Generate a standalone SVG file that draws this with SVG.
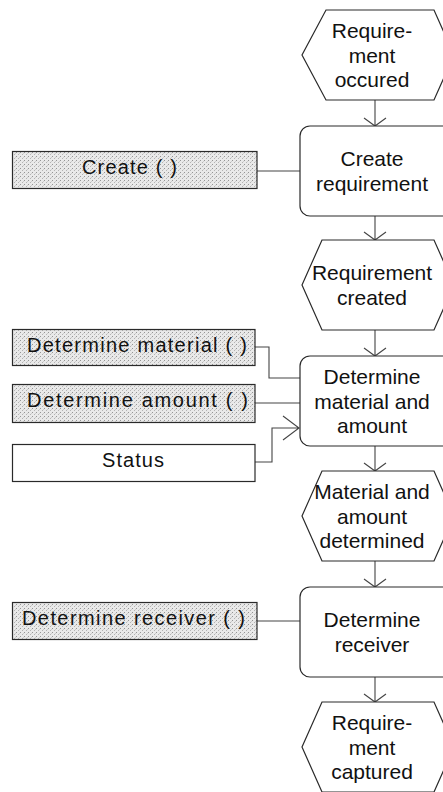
<svg xmlns="http://www.w3.org/2000/svg" width="443" height="792" viewBox="0 0 443 792">
  <defs>
    <!-- fine dotted screen used for the operation boxes -->
    <pattern id="dots" width="4" height="4" patternUnits="userSpaceOnUse">
      <rect width="4" height="4" fill="#e9e9e9"/>
      <rect x="0" y="0" width="1" height="1" fill="#959595"/>
      <rect x="2" y="2" width="1" height="1" fill="#b4b4b4"/>
      <rect x="3" y="1" width="1" height="1" fill="#cdcdcd"/>
    </pattern>
  </defs>
  <style>
    .shape { fill: #ffffff; stroke: #2a2a2a; stroke-width: 1.2; }
    .op { fill: url(#dots); stroke: #2a2a2a; stroke-width: 1.2; }
    .plain { fill: #ffffff; stroke: #2a2a2a; stroke-width: 1.2; }
    .lbl { font-family: "Liberation Sans", Arial, sans-serif; font-size: 21px; fill: #111; text-anchor: middle; }
    .oplbl { font-family: "Liberation Sans", Arial, sans-serif; font-size: 20px; fill: #111; }
    .wire { fill: none; stroke: #444; stroke-width: 1.1; }
  </style>

  <!-- connectors -->
  <g id="connectors">
    <path class="wire" d="M375 100 V126 M364 118 L375 126 L386 118"/>
    <path class="wire" d="M375 216 V240 M364 232 L375 240 L386 232"/>
    <path class="wire" d="M375 330 V356 M364 348 L375 356 L386 348"/>
    <path class="wire" d="M375 446 V471 M364 463 L375 471 L386 463"/>
    <path class="wire" d="M375 561 V587 M364 579 L375 587 L386 579"/>
    <path class="wire" d="M375 677 V702 M364 694 L375 702 L386 694"/>
    <path class="wire" d="M257 171 H300"/>
    <path class="wire" d="M255 347 H269 V378 H300"/>
    <path class="wire" d="M255 403 H300"/>
    <path class="wire" d="M255 462 H272 V428 H299 M283 416 L299 428 L283 440"/>
    <path class="wire" d="M257 621 H300"/>
  </g>

  <!-- events -->
  <g id="ev-occured">
    <polygon class="shape" points="326,10 434,10 454,55 434,100 326,100 302,55"/>
    <text class="lbl" x="372" y="38">Require-</text>
    <text class="lbl" x="372" y="62.5">ment</text>
    <text class="lbl" x="372" y="87">occured</text>
  </g>
  <g id="ev-created">
    <polygon class="shape" points="322,240 434,240 454,285 434,330 322,330 302,285"/>
    <text class="lbl" x="372" y="280">Requirement</text>
    <text class="lbl" x="372" y="304.5">created</text>
  </g>
  <g id="ev-determined">
    <polygon class="shape" points="322,471 434,471 454,516 434,561 322,561 302,516"/>
    <text class="lbl" x="372" y="499">Material and</text>
    <text class="lbl" x="372" y="523.5">amount</text>
    <text class="lbl" x="372" y="548">determined</text>
  </g>
  <g id="ev-captured">
    <polygon class="shape" points="322,702 434,702 454,747 434,792 322,792 302,747"/>
    <text class="lbl" x="372" y="730">Require-</text>
    <text class="lbl" x="372" y="754.5">ment</text>
    <text class="lbl" x="372" y="779">captured</text>
  </g>

  <!-- functions -->
  <g id="fn-create">
    <rect class="shape" x="300" y="126" width="170" height="90" rx="10"/>
    <text class="lbl" x="372" y="166">Create</text>
    <text class="lbl" x="372" y="190.5">requirement</text>
  </g>
  <g id="fn-material">
    <rect class="shape" x="300" y="356" width="170" height="90" rx="10"/>
    <text class="lbl" x="372" y="384">Determine</text>
    <text class="lbl" x="372" y="408.5">material and</text>
    <text class="lbl" x="372" y="433">amount</text>
  </g>
  <g id="fn-receiver">
    <rect class="shape" x="300" y="587" width="170" height="90" rx="10"/>
    <text class="lbl" x="372" y="627">Determine</text>
    <text class="lbl" x="372" y="651.5">receiver</text>
  </g>

  <!-- operations and status -->
  <g id="op-create">
    <rect class="op" x="12.5" y="151.5" width="244.5" height="37"/>
    <text class="oplbl" x="82" y="174" textLength="95" lengthAdjust="spacing">Create ( )</text>
  </g>
  <g id="op-material">
    <rect class="op" x="12.5" y="329.5" width="242.5" height="36"/>
    <text class="oplbl" x="27" y="351.5" textLength="220" lengthAdjust="spacing">Determine material ( )</text>
  </g>
  <g id="op-amount">
    <rect class="op" x="12.5" y="384.5" width="242.5" height="38"/>
    <text class="oplbl" x="27" y="407" textLength="221" lengthAdjust="spacing">Determine amount ( )</text>
  </g>
  <g id="status">
    <rect class="plain" x="12.5" y="444.5" width="242.5" height="37"/>
    <text class="oplbl" x="102" y="467" textLength="62" lengthAdjust="spacing">Status</text>
  </g>
  <g id="op-receiver">
    <rect class="op" x="12.5" y="602.5" width="244.5" height="37"/>
    <text class="oplbl" x="22" y="625" textLength="223" lengthAdjust="spacing">Determine receiver ( )</text>
  </g>
</svg>
